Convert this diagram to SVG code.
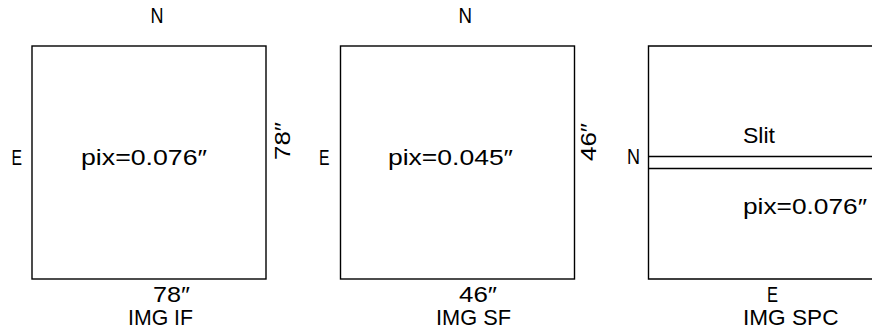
<svg xmlns="http://www.w3.org/2000/svg" width="872" height="333" viewBox="0 0 872 333">
<style>
.frame{fill:none;stroke:#000;stroke-width:1.4}
.t{font-family:"Liberation Sans",Arial,sans-serif;font-size:22.5px;fill:#000}
</style>
<rect width="872" height="333" fill="#fff"/>
<g id="img-if">
<rect class="frame" x="32" y="46" width="234" height="233"/>
<text class="t" x="150.5" y="23" textLength="13" lengthAdjust="spacingAndGlyphs">N</text>
<text class="t" x="11.5" y="165" textLength="10.5" lengthAdjust="spacingAndGlyphs">E</text>
<text class="t" x="81" y="165" textLength="126" lengthAdjust="spacingAndGlyphs">pix=0.076″</text>
<text class="t" transform="translate(290,160) rotate(-90)" x="0" y="0" textLength="38" lengthAdjust="spacingAndGlyphs">78″</text>
<text class="t" x="153" y="302" textLength="37" lengthAdjust="spacingAndGlyphs">78″</text>
<text class="t" x="128" y="325" textLength="65" lengthAdjust="spacingAndGlyphs">IMG IF</text>
</g>
<g id="img-sf">
<rect class="frame" x="340.5" y="46" width="234" height="233"/>
<text class="t" x="458.5" y="23" textLength="13.5" lengthAdjust="spacingAndGlyphs">N</text>
<text class="t" x="319" y="165" textLength="10.5" lengthAdjust="spacingAndGlyphs">E</text>
<text class="t" x="388" y="165" textLength="125" lengthAdjust="spacingAndGlyphs">pix=0.045″</text>
<text class="t" transform="translate(596,161) rotate(-90)" x="0" y="0" textLength="38" lengthAdjust="spacingAndGlyphs">46″</text>
<text class="t" x="459" y="302" textLength="38" lengthAdjust="spacingAndGlyphs">46″</text>
<text class="t" x="436" y="325" textLength="75" lengthAdjust="spacingAndGlyphs">IMG SF</text>
</g>
<g id="img-spc">
<path class="frame" d="M874,46 H648.5 V279 H874"/>
<path class="frame" d="M648.5,156.5 H874 M648.5,168.5 H874"/>
<text class="t" x="627" y="163.5" textLength="13" lengthAdjust="spacingAndGlyphs">N</text>
<text class="t" x="743" y="143" textLength="32" lengthAdjust="spacingAndGlyphs">Slit</text>
<text class="t" x="743" y="214" textLength="124" lengthAdjust="spacingAndGlyphs">pix=0.076″</text>
<text class="t" x="767" y="302" textLength="11" lengthAdjust="spacingAndGlyphs">E</text>
<text class="t" x="743" y="325" textLength="95.5" lengthAdjust="spacingAndGlyphs">IMG SPC</text>
</g>
<g id="connectors"/>
</svg>
